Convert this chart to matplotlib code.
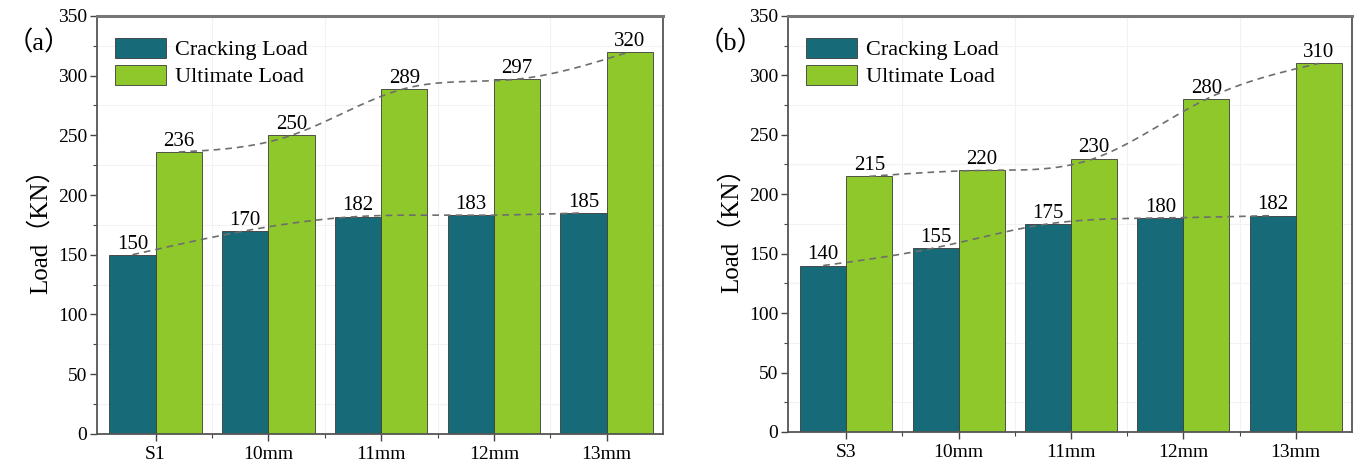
import numpy as np
import matplotlib
matplotlib.use("Agg")
import matplotlib.pyplot as plt
from matplotlib.ticker import MultipleLocator, FixedLocator

plt.rcParams['font.family'] = ['Liberation Serif', 'Noto Sans CJK SC', 'DejaVu Sans']

# data
groups_a = ["S1", "10mm", "11mm", "12mm", "13mm"]
cracking_a = [150, 170, 182, 183, 185]
ultimate_a = [236, 250, 289, 297, 320]

groups_b = ["S3", "10mm", "11mm", "12mm", "13mm"]
cracking_b = [140, 155, 175, 180, 182]
ultimate_b = [215, 220, 230, 280, 310]

teal = "#176a77"
green = "#8fc82a"
edge = "#3a3a3a"
w = 0.41


def natural_spline(x, y, n=200):
    # plain natural cubic spline, only used for the smooth dashed trend line
    x = np.asarray(x, float)
    y = np.asarray(y, float)
    k = len(x)
    h = np.diff(x)
    A = np.zeros((k, k))
    r = np.zeros(k)
    A[0, 0] = A[-1, -1] = 1
    for i in range(1, k - 1):
        A[i, i - 1] = h[i - 1]
        A[i, i] = 2 * (h[i - 1] + h[i])
        A[i, i + 1] = h[i]
        r[i] = 3 * ((y[i + 1] - y[i]) / h[i] - (y[i] - y[i - 1]) / h[i - 1])
    c = np.linalg.solve(A, r)
    xs = np.linspace(x[0], x[-1], n)
    ys = np.empty_like(xs)
    for j, xv in enumerate(xs):
        i = min(np.searchsorted(x, xv, side='right') - 1, k - 2)
        b = (y[i + 1] - y[i]) / h[i] - h[i] * (2 * c[i] + c[i + 1]) / 3
        d = (c[i + 1] - c[i]) / (3 * h[i])
        t = xv - x[i]
        ys[j] = y[i] + b * t + c[i] * t ** 2 + d * t ** 3
    return xs, ys


def panel(ax, groups, crack, ult, tag):
    x = np.arange(len(groups))
    ax.grid(True, which='minor', color='#f2f2f2', lw=0.8)
    ax.set_axisbelow(True)
    ax.bar(x - w / 2, crack, w, color=teal, edgecolor=edge, lw=0.6,
           label="Cracking Load", zorder=2)
    ax.bar(x + w / 2, ult, w, color=green, edgecolor=edge, lw=0.6,
           label="Ultimate Load", zorder=2)
    for xs_, vals in ((x - w / 2, crack), (x + w / 2, ult)):
        sx, sy = natural_spline(xs_, vals)
        ax.plot(sx, sy, ls=(0, (4, 3)), color='#6e6e6e', lw=1.2, zorder=3)
        for xi, v in zip(xs_, vals):
            ax.text(xi, v + 1, str(v), ha='center', va='bottom', fontsize=15,
                    zorder=4)
    ax.set_xlim(-0.52, 4.5)
    ax.set_ylim(0, 350)
    ax.set_xticks(x)
    ax.set_xticklabels(groups, fontsize=14)
    ax.xaxis.set_minor_locator(FixedLocator(x[:-1] + 0.5))
    ax.yaxis.set_major_locator(MultipleLocator(50))
    ax.yaxis.set_minor_locator(MultipleLocator(25))
    ax.tick_params(axis='y', labelsize=14, pad=2)
    ax.tick_params(axis='x', pad=4)
    ax.tick_params(which='major', direction='out', length=5, width=1, color='#444')
    ax.tick_params(which='minor', direction='out', length=3, width=0.8, color='#444')
    for s in ax.spines.values():
        s.set_color('#555555')
        s.set_linewidth(1.3)
    ax.spines['top'].set_linewidth(2.2)
    ax.spines['top'].set_color('#777777')
    ax.set_ylabel("Load（KN）", fontsize=18, labelpad=4)
    ax.legend(loc='upper left', fontsize=16, frameon=False, handlelength=2.3,
              handleheight=1.0, labelspacing=0.2, borderaxespad=0.4,
              handletextpad=0.4, bbox_to_anchor=(0.0, 0.99))
    ax.text(-0.16, 0.935, "（" + tag + "）", transform=ax.transAxes,
            fontsize=19, ha='left', va='center')


fig = plt.figure(figsize=(13.56, 4.67), dpi=100)
ax1 = fig.add_axes([0.0715, 0.071, 0.4175, 0.895])
ax2 = fig.add_axes([0.581, 0.075, 0.416, 0.891])
panel(ax1, groups_a, cracking_a, ultimate_a, "a")
panel(ax2, groups_b, cracking_b, ultimate_b, "b")
fig.savefig("out.png", dpi=100)
